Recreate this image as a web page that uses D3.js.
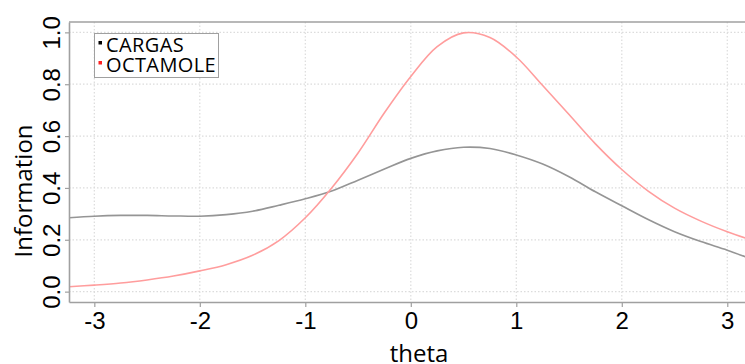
<!DOCTYPE html>
<html>
<head>
<meta charset="utf-8">
<script src="https://cdn.jsdelivr.net/npm/d3@7"></script>
<style>
  body { margin: 0; background: #fff; }
  svg { display: block; font-family: "Open Sans", sans-serif; }
</style>
</head>
<body>
<svg id="chart" width="745" height="364"></svg>
<script>
// information curves
const theta = [-3.24, -3, -2.75, -2.5, -2.25, -2, -1.75, -1.5, -1.25, -1, -0.75, -0.5, -0.25,
  0, 0.25, 0.5, 0.75, 1, 1.25, 1.5, 1.75, 2, 2.25, 2.5, 2.75, 3, 3.24];
const cargas = [0.285, 0.291, 0.294, 0.294, 0.292, 0.291, 0.297, 0.31, 0.333, 0.358, 0.388, 0.43, 0.473,
  0.514, 0.543, 0.557, 0.552, 0.527, 0.492, 0.443, 0.385, 0.331, 0.278, 0.231, 0.193, 0.16, 0.124];
const octamole = [0.019, 0.025, 0.033, 0.045, 0.06, 0.08, 0.104, 0.14, 0.197, 0.285, 0.4, 0.535, 0.69,
  0.83, 0.945, 0.998, 0.98, 0.905, 0.795, 0.683, 0.57, 0.471, 0.388, 0.322, 0.272, 0.231, 0.198];
const seriesNames = ["CARGAS", "OCTAMOLE"];
const xTicks = [-3, -2, -1, 0, 1, 2, 3];
const yTicks = [0, 0.2, 0.4, 0.6, 0.8, 1.0];

const svg = d3.select("#chart");
const mLeft = 69, mTop = 22, mBottom = 302, mRight = 752.6;

const x = d3.scaleLinear().domain([-3.24, 3.24]).range([mLeft, mRight]);
const y = d3.scaleLinear().domain([-0.04, 1.04]).range([mBottom, mTop]);

// grid
const grid = svg.append("g")
  .attr("stroke", "#dcdcdc")
  .attr("stroke-width", 1.2)
  .attr("stroke-dasharray", "1.5,2");
grid.selectAll("line.v").data(xTicks).enter().append("line")
  .attr("x1", d => x(d)).attr("x2", d => x(d))
  .attr("y1", mTop).attr("y2", mBottom);
grid.selectAll("line.h").data(yTicks).enter().append("line")
  .attr("x1", mLeft).attr("x2", 745)
  .attr("y1", d => y(d)).attr("y2", d => y(d));

// lines
const line = d3.line()
  .x((d, i) => x(theta[i]))
  .y(d => y(d))
  .curve(d3.curveCatmullRom.alpha(0.5));

svg.append("path").datum(cargas)
  .attr("fill", "none").attr("stroke", "#959595").attr("stroke-width", 1.6)
  .attr("d", line);
svg.append("path").datum(octamole)
  .attr("fill", "none").attr("stroke", "#ff9d9d").attr("stroke-width", 1.6)
  .attr("d", line);

// frame
const axisColor = "#a0a0a0";
svg.append("line").attr("x1", mLeft).attr("x2", 745).attr("y1", mTop).attr("y2", mTop)
  .attr("stroke", axisColor).attr("stroke-width", 1.6);

const xAxis = svg.append("g")
  .attr("transform", "translate(0," + mBottom + ")")
  .call(d3.axisBottom(x).tickValues(xTicks).tickSize(5).tickPadding(5).tickSizeOuter(0));
xAxis.select(".domain").attr("stroke", axisColor).attr("stroke-width", 1.6);
xAxis.selectAll(".tick line").attr("stroke", axisColor).attr("stroke-width", 1.2);
xAxis.selectAll(".tick text")
  .attr("fill", "#000").style("font-size", "24px")
  .text(d => d);

const yAxis = svg.append("g")
  .attr("transform", "translate(" + mLeft + ",0)")
  .call(d3.axisLeft(y).tickValues(yTicks).tickSize(4).tickSizeOuter(0));
yAxis.select(".domain").attr("stroke", axisColor).attr("stroke-width", 1.6);
yAxis.selectAll(".tick line").attr("stroke", axisColor).attr("stroke-width", 1.2);
yAxis.selectAll(".tick text")
  .attr("fill", "#000").style("font-size", "24px")
  .attr("text-anchor", "middle")
  .attr("x", 0).attr("dy", 0)
  .attr("transform", "translate(-9,0) rotate(-90)")
  .text(d3.format(".1f"));

// axis titles
svg.append("text")
  .attr("x", 419).attr("y", 362)
  .attr("text-anchor", "middle")
  .style("font-size", "24px")
  .text("theta");

svg.append("text")
  .attr("transform", "translate(32,191) rotate(-90)")
  .attr("text-anchor", "middle")
  .style("font-size", "24px")
  .text("Information");

// legend
const legend = svg.append("g");
legend.append("rect")
  .attr("x", 94.5).attr("y", 33.5).attr("width", 124).attr("height", 44)
  .attr("fill", "#fff").attr("stroke", "#a0a0a0").attr("stroke-width", 1);
const colors = ["#000000", "#ff2020"];
seriesNames.forEach((name, i) => {
  legend.append("rect")
    .attr("x", 98.5).attr("y", 41 + i * 20).attr("width", 3.5).attr("height", 3.5)
    .attr("fill", colors[i]);
  legend.append("text")
    .attr("x", 106).attr("y", 52 + i * 20)
    .style("font-size", "20px")
    .style("letter-spacing", "0.4px")
    .text(name);
});
</script>
</body>
</html>
